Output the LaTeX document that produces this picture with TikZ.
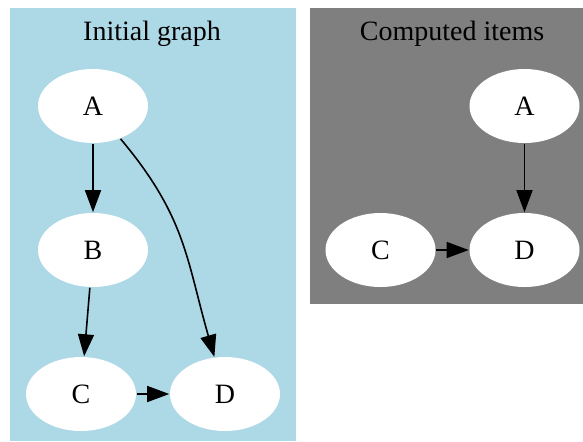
\documentclass[tikz,border=0pt]{standalone}
\usepackage{fontspec}
\setmainfont{Liberation Serif}
\usetikzlibrary{shapes.geometric, arrows.meta, positioning}

\definecolor{clusterblue}{RGB}{173,216,230}
\definecolor{clustergray}{RGB}{127,127,127}

\begin{document}
\begin{tikzpicture}[x=0.5pt, y=-0.5pt, >={Triangle[length=11pt, width=8pt]}, node distance=72pt, line width=0.8pt,
        item/.style={ellipse, fill=white, minimum width=55pt, minimum height=37pt, inner sep=0pt, font=\fontsize{14}{16}\selectfont},
        title/.style={anchor=base, font=\fontsize{14}{16}\selectfont}]
        \useasboundingbox (0,0) rectangle (583,441);
        \fill[clusterblue] (10,8) rectangle (296,441);
        \fill[clustergray] (310,8) rectangle (583,304);
        \node[title] (initial) at (152,40) {Initial graph};
        \node[title] (computed) at (452,40) {Computed items};
        
        % initial graph
        \node[item] (a1) at (93,106) {A};
        \node[item] (b1) [below of=a1] {B};
        \node[item] (c1) [below of=b1, xshift=-6pt] {C};
        \node[item] (d1) [right of=c1] {D};
        
        % computed items
        \node[item] (a2) at (524.5,106) {A};
        \node[item] (d2) [below of=a2] {D};
        \node[item] (c2) [left of=d2] {C};
        
        \path[->]
        (a1) edge (b1)
        (b1) edge (c1)
        (a1) edge [out=-50, in=106, looseness=1.1] (d1)
        (c1) edge (d1)
        (a2) edge (d2)
        (c2) edge (d2);
    \end{tikzpicture}
\end{document}
